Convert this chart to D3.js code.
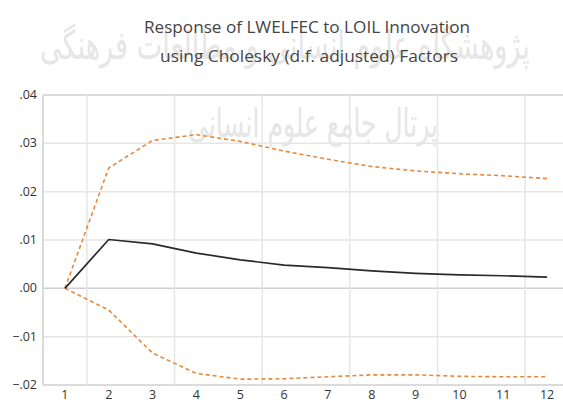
<!DOCTYPE html>
<html>
<head>
<meta charset="utf-8">
<script src="https://cdn.jsdelivr.net/npm/d3@7"></script>
<style>
    body { margin: 0; background: #fff; }
    svg { display: block; }
</style>
</head>
<body>
<div class="chart"></div>
<script>
// periods (x categories)
let periods = [1, 2, 3, 4, 5, 6, 7, 8, 9, 10, 11, 12];
// impulse response and +/- 2 S.E. bands
let response = [0.0000, 0.0101, 0.0092, 0.0073, 0.0059, 0.0048, 0.0043, 0.0036, 0.0031, 0.0028, 0.0026, 0.0023];
let upperBand = [0.0000, 0.0249, 0.0306, 0.0318, 0.0304, 0.0284, 0.0267, 0.0252, 0.0243, 0.0237, 0.0233, 0.0227];
let lowerBand = [0.0000, -0.0045, -0.0134, -0.0176, -0.0188, -0.0187, -0.0183, -0.0179, -0.0179, -0.0182, -0.0183, -0.0183];
let yTicks = [-0.02, -0.01, 0, 0.01, 0.02, 0.03, 0.04];
let titleLines = ['Response of LWELFEC to LOIL Innovation', 'using Cholesky (d.f. adjusted) Factors'];
let watermark = ['پژوهشگاه علوم انسانی و مطالعات فرهنگی', 'پرتال جامع علوم انسانی'];

let width = 563, height = 404;
let plot = {left: 43, right: 569, top: 95, bottom: 385};

let svg = d3.select('.chart').append('svg')
    .attr('width', width)
    .attr('height', height);

// faint watermark behind everything, stretched into its box
let wmBoxes = [[40, 22, 490, 48], [188, 100, 250, 48]];
watermark.forEach((w, i) => {
    let g = svg.append('g');
    let t = g.append('text')
        .attr('x', 0).attr('y', 0)
        .style('font-family', 'DejaVu Sans')
        .style('font-size', '30px')
        .style('fill', '#e6e6e6')
        .text(w);
    let bb = t.node().getBBox();
    let b = wmBoxes[i];
    let sx = b[2] / bb.width, sy = b[3] / bb.height;
    g.attr('transform', 'translate(' + (b[0] - bb.x * sx) + ',' + (b[1] - bb.y * sy) + ') scale(' + sx + ',' + sy + ')');
});

let x = d3.scalePoint()
    .domain(periods)
    .range([plot.left, plot.right])
    .padding(0.5);
let step = x.step();

let y = d3.scaleLinear()
    .domain([-0.02, 0.04])
    .range([plot.bottom, plot.top]);

// grid
let grid = svg.append('g');
grid.selectAll('line.h')
    .data(yTicks)
    .enter().append('line')
    .attr('x1', plot.left).attr('x2', width)
    .attr('y1', d => y(d)).attr('y2', d => y(d))
    .style('stroke', d => (d === 0 || d === -0.02 || d === 0.04) ? '#cfcfcf' : '#e6e6e6')
    .style('stroke-width', 1.5);
grid.selectAll('line.v')
    .data(periods.filter(p => p % 2 === 1))
    .enter().append('line')
    .attr('x1', d => x(d) + step / 2).attr('x2', d => x(d) + step / 2)
    .attr('y1', plot.top).attr('y2', plot.bottom)
    .style('stroke', '#e6e6e6')
    .style('stroke-width', 1.5);
grid.append('line')
    .attr('x1', plot.left).attr('x2', plot.left)
    .attr('y1', plot.top).attr('y2', plot.bottom)
    .style('stroke', '#cfcfcf')
    .style('stroke-width', 1.5);

// y axis labels
let fmt = d => d === 0 ? '.00' : d3.format('.2f')(d).replace('0.', '.');
svg.append('g').selectAll('text')
    .data(yTicks)
    .enter().append('text')
    .attr('x', 37)
    .attr('y', d => y(d) + 4)
    .attr('text-anchor', 'end')
    .style('font-family', 'Open Sans')
    .style('font-size', '12.5px')
    .style('fill', '#333')
    .text(fmt);

// x axis labels
svg.append('g').selectAll('text')
    .data(periods)
    .enter().append('text')
    .attr('x', d => x(d))
    .attr('y', 399)
    .attr('text-anchor', 'middle')
    .style('font-family', 'Open Sans')
    .style('font-size', '12.5px')
    .style('fill', '#333')
    .text(d => d);

// lines
let line = d3.line()
    .x((d, i) => x(periods[i]))
    .y(d => y(d));

[upperBand, lowerBand].forEach(band => {
    svg.append('path')
        .attr('d', line(band))
        .style('fill', 'none')
        .style('stroke', '#e8883a')
        .style('stroke-width', 1.6)
        .style('stroke-dasharray', '4,3');
});
svg.append('path')
    .attr('d', line(response))
    .style('fill', 'none')
    .style('stroke', '#2a2a2a')
    .style('stroke-width', 1.7);

// title
svg.append('g').selectAll('text')
    .data(titleLines)
    .enter().append('text')
    .attr('x', (d, i) => i === 0 ? 307 : 309)
    .attr('y', (d, i) => 33 + i * 29)
    .attr('text-anchor', 'middle')
    .attr('textLength', (d, i) => i === 0 ? 326 : 298)
    .attr('lengthAdjust', 'spacingAndGlyphs')
    .style('font-family', 'Open Sans')
    .style('font-size', '16px')
    .style('fill', '#444')
    .text(d => d);
</script>
</body>
</html>
